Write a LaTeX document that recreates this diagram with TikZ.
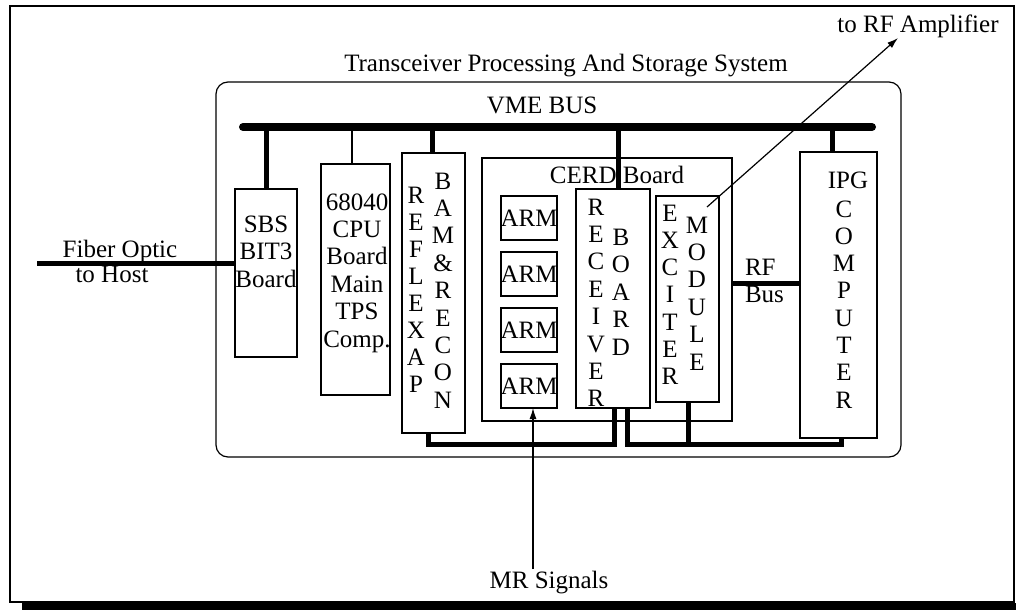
\documentclass[tikz,border=0pt]{standalone}
\usepackage{fontspec}
\setmainfont{Liberation Serif}
\usetikzlibrary{arrows.meta,calc}
\begin{document}
\begin{tikzpicture}[x=1pt,y=-1pt,
  every node/.style={font=\fontsize{25}{27.4}\selectfont,inner sep=0pt,outer sep=0pt},
  box/.style={draw,line width=1.2pt,anchor=north west},
  lbl/.style={anchor=base},
  thinlink/.style={line width=1.2pt},
  wire/.style={line width=5pt},
  busline/.style={line width=8pt,line cap=round},
  arr/.style={line width=1.2pt,-{Latex[length=11pt,width=7pt]}}]
\useasboundingbox (0,0) rectangle (1016,610);

% outer frame with shadow
\node[box,minimum width=1004,minimum height=596] (frame) at (10,6) {};
\fill[black] (22,602.6) rectangle (1016,610);

% system box
\node[box,rounded corners=12pt,minimum width=685,minimum height=375] (tpss) at (216,82) {};
\node[lbl] (title) at (566,71) {Transceiver Processing And Storage System};
\node[lbl] (vme) at (542,113) {VME BUS};
\coordinate (busL) at (243,127);
\coordinate (busR) at (872,127);
\draw[busline] (busL) -- (busR);

% SBS board
\node[box,minimum width=62,minimum height=168] (sbs) at (235,189) {};
\foreach \t [count=\i] in {SBS,BIT3,Board}
  \node[lbl] (sbs-\i) at (266,{232+27.5*(\i-1)}) {\t};
\draw[wire] (sbs.north |- busL) -- (sbs.north);
\coordinate (fib) at (37,263);
\draw[wire] (fib) -- (fib -| sbs.west);
\node[lbl] (fo1) at (120,257) {Fiber Optic};
\node[lbl] (fo2) at (112,282) {to Host};

% 68040 CPU
\node[box,minimum width=69,minimum height=231] (cpu) at (321,164) {};
\foreach \t [count=\i] in {68040,CPU,Board,Main,TPS,Comp.}
  \node[lbl] (cpu-\i) at (357,{210+27.4*(\i-1)}) {\t};
\draw[thinlink] ([xshift=-3.5pt]cpu.north |- busL) -- ([xshift=-3.5pt]cpu.north);

% REFLEXAP / BAM & RECON
\node[box,minimum width=63,minimum height=280] (refl) at (402,153) {};
\foreach \t [count=\i] in {R,E,F,L,E,X,A,P}
  \node[lbl] (refl-\i) at (416,{203+27.1*(\i-1)}) {\t};
\foreach \t [count=\i] in {B,A,M,\&,R,E,C,O,N}
  \node[lbl] (bam-\i) at (443,{189+27.4*(\i-1)}) {\t};
\draw[wire] ([xshift=-1.5pt]refl.north |- busL) -- ([xshift=-1.5pt]refl.north);

% CERD board
\node[box,minimum width=250,minimum height=263] (cerd) at (482,158) {};
\node[lbl] (cerdt) at (617,183) {CERD Board};
\foreach \i in {1,...,4}{
  \node[box,minimum width=56,minimum height=44] (arm\i) at (501,{196+56*(\i-1)}) {};
  \node (armt\i) at (arm\i.center) {ARM};
}
\node[box,minimum width=74,minimum height=219] (rcv) at (576,189) {};
\foreach \t [count=\i] in {R,E,C,E,I,V,E,R}
  \node[lbl] (rcv-\i) at (596,{215+27.4*(\i-1)}) {\t};
\foreach \t [count=\i] in {B,O,A,R,D}
  \node[lbl] (rbd-\i) at (621,{245+27.5*(\i-1)}) {\t};
\node[box,minimum width=63,minimum height=206] (exc) at (656,196) {};
\foreach \t [count=\i] in {E,X,C,I,T,E,R}
  \node[lbl] (exc-\i) at (670,{221+27.3*(\i-1)}) {\t};
\foreach \t [count=\i] in {M,O,D,U,L,E}
  \node[lbl] (mod-\i) at (697,{233+27.4*(\i-1)}) {\t};
\draw[wire] ([xshift=5pt]rcv.north |- busL) -- ([xshift=5pt]rcv.north);

% IPG computer
\node[box,minimum width=77,minimum height=286] (ipg) at (800,152) {};
\node[lbl] (ipgt) at (848,188) {IPG};
\foreach \t [count=\i] in {C,O,M,P,U,T,E,R}
  \node[lbl] (ipg-\i) at (844,{217+27.3*(\i-1)}) {\t};
\draw[wire] ([xshift=-6.5pt]ipg.north |- busL) -- ([xshift=-6.5pt]ipg.north);

% RF bus
\draw[wire] ([yshift=6.5pt]cerd.east) -- ([yshift=6.5pt]cerd.east -| ipg.west);
\node[lbl,anchor=base west] (rft) at (745,275) {RF};
\node[lbl,anchor=base west] (bust) at (745,302) {Bus};

% bottom buses
\coordinate (b1) at (428,444);
\coordinate (b2) at (627,444);
\draw[wire] (b1 |- refl.south) -- (b1) -| ([xshift=1pt]rcv.south);
\draw[wire] (b2 |- rcv.south) -- (b2) -| ([xshift=2.5pt]ipg.south);
\draw[wire] ([xshift=0.5pt]exc.south) -- ([xshift=0.5pt]exc.south |- b2);

% RF amplifier arrow
\coordinate (ampfrom) at (707,207);
\coordinate (amptip) at (898,38);
\draw[arr] (ampfrom) -- (amptip);
\node[lbl] (amp) at (918,33) {to RF Amplifier};

% MR signals
\node[lbl] (mr) at (549,588) {MR Signals};
\coordinate (mrtail) at (533,569);
\draw[arr] (mrtail) -- (mrtail |- arm4.south);
\end{tikzpicture}
\end{document}
